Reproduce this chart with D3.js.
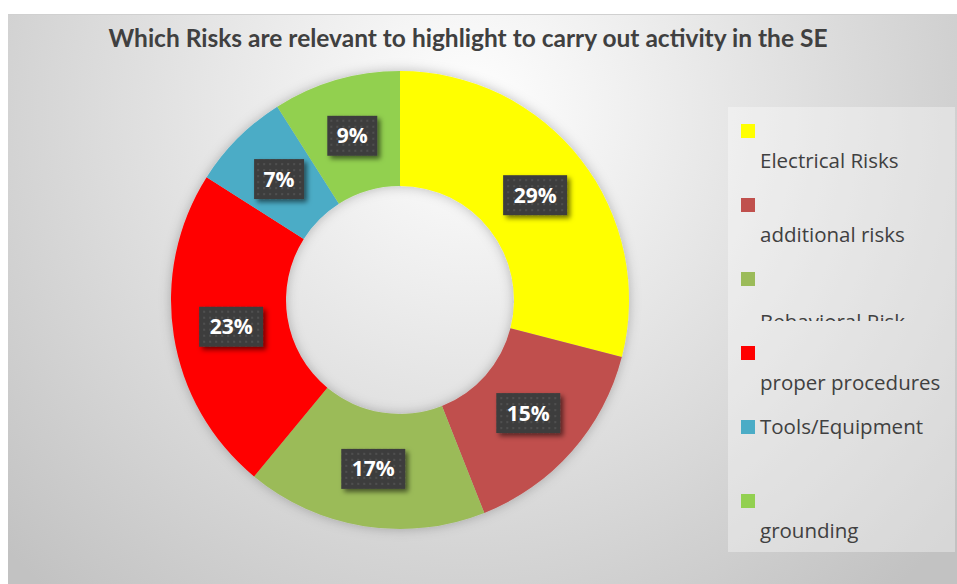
<!DOCTYPE html>
<html>
<head>
<meta charset="utf-8">
<script src="https://cdn.jsdelivr.net/npm/d3@7"></script>
<style>
  body { margin: 0; background: #fff; }
  svg { display: block; }
</style>
</head>
<body>
<div id="chart"></div>
<script>
const categories = ["Electrical Risks", "additional risks", "Behavioral Risk", "proper procedures", "Tools/Equipment", "grounding"];
const values = [29, 15, 17, 23, 7, 9];
const colors = ["#ffff00", "#c0504d", "#9bbb59", "#ff0000", "#4bacc6", "#92d050"];
const title = "Which Risks are relevant to highlight to carry out activity in the SE";

const W = 957, H = 584;
const svg = d3.select("#chart").append("svg")
    .attr("width", W)
    .attr("height", H);

const defs = svg.append("defs");

// chart area background
const bg = defs.append("radialGradient")
    .attr("id", "bg")
    .attr("gradientUnits", "userSpaceOnUse")
    .attr("cx", 470).attr("cy", 110).attr("r", 640);
bg.append("stop").attr("offset", "0%").attr("stop-color", "#ffffff");
bg.append("stop").attr("offset", "100%").attr("stop-color", "#c2c2c2");

const shadow = defs.append("filter").attr("id", "shadow")
    .attr("x", "-30%").attr("y", "-30%").attr("width", "160%").attr("height", "160%");
shadow.append("feDropShadow")
    .attr("dx", 3).attr("dy", 3).attr("stdDeviation", 2.5)
    .attr("flood-color", "#000").attr("flood-opacity", 0.55);

const halo = defs.append("filter").attr("id", "halo")
    .attr("x", "-20%").attr("y", "-20%").attr("width", "140%").attr("height", "140%");
halo.append("feDropShadow")
    .attr("dx", 0).attr("dy", 0).attr("stdDeviation", 6)
    .attr("flood-color", "#000").attr("flood-opacity", 0.25);

const dots = defs.append("pattern").attr("id", "dots")
    .attr("patternUnits", "userSpaceOnUse")
    .attr("width", 6).attr("height", 6);
dots.append("rect").attr("width", 6).attr("height", 6).attr("fill", "#3e3e3e");
dots.append("circle").attr("cx", 3).attr("cy", 3).attr("r", 1).attr("fill", "#555");

svg.append("rect")
    .attr("x", 8).attr("y", 14)
    .attr("width", W - 8).attr("height", H - 14)
    .attr("fill", "url(#bg)");
svg.append("line")
    .attr("x1", 8).attr("x2", W).attr("y1", 14.5).attr("y2", 14.5)
    .attr("stroke", "#d0d0d0");

svg.append("text")
    .attr("x", 468).attr("y", 47)
    .attr("text-anchor", "middle")
    .attr("font-family", "Lato, 'Open Sans', sans-serif")
    .attr("font-weight", "bold")
    .attr("font-size", 24.5)
    .attr("fill", "#404040")
    .text(title);

// donut
const cx = 400, cy = 300, rOuter = 229, rInner = 114;
const data = categories.map((c, i) => ({ name: c, value: values[i], color: colors[i] }));
const pie = d3.pie().value(d => d.value).sort(null);
const arc = d3.arc().innerRadius(rInner).outerRadius(rOuter);
const labelArc = d3.arc().innerRadius(171).outerRadius(171);
const arcs = pie(data);

const g = svg.append("g").attr("transform", `translate(${cx},${cy})`);
g.append("g").attr("filter", "url(#halo)")
    .selectAll("path")
    .data(arcs)
    .join("path")
    .attr("d", arc)
    .attr("fill", d => d.data.color);

const total = d3.sum(values);
const labels = g.selectAll(".lbl")
    .data(arcs)
    .join("g")
    .attr("class", "lbl")
    .attr("transform", d => `translate(${labelArc.centroid(d)})`);

labels.append("rect")
    .attr("x", d => d.data.value >= 10 ? -32 : -25)
    .attr("y", -20)
    .attr("width", d => d.data.value >= 10 ? 64 : 50)
    .attr("height", 40)
    .attr("fill", "url(#dots)")
    .attr("filter", "url(#shadow)");

labels.append("text")
    .attr("text-anchor", "middle")
    .attr("dy", "0.36em")
    .attr("font-family", "'Open Sans', sans-serif")
    .attr("font-weight", "bold")
    .attr("font-size", 21)
    .attr("fill", "#ffffff")
    .text(d => Math.round(d.data.value / total * 100) + "%");

// legend
const legend = svg.append("g");
legend.append("rect")
    .attr("x", 728).attr("y", 107)
    .attr("width", 227).attr("height", 445)
    .attr("fill", "#ffffff").attr("fill-opacity", 0.35);

const legY = d3.scaleBand().domain(categories).range([117, 561]);
// text offset under the marker; Tools/Equipment sits on the marker line,
// Behavioral Risk is pushed down and cut off by its row
const textDy = [44, 44, 57, 44, 14, 44];
const clipBottom = [null, null, 321, null, null, null];

categories.forEach((c, i) => {
    if (clipBottom[i]) {
        defs.append("clipPath").attr("id", "clip" + i)
            .attr("clipPathUnits", "userSpaceOnUse")
            .append("rect").attr("x", 700).attr("y", 0).attr("width", 257).attr("height", clipBottom[i]);
    }
});

const items = legend.selectAll(".item")
    .data(data)
    .join("g")
    .attr("class", "item");

items.append("rect")
    .attr("x", 741)
    .attr("y", d => legY(d.name) + 7)
    .attr("width", 14).attr("height", 14)
    .attr("fill", d => d.color);

items.append("text")
    .attr("x", 760)
    .attr("y", (d, i) => legY(d.name) + 7 + textDy[i])
    .attr("clip-path", (d, i) => clipBottom[i] ? `url(#clip${i})` : null)
    .attr("font-family", "'Open Sans', sans-serif")
    .attr("font-size", 20.5)
    .attr("fill", "#404040")
    .text(d => d.name);
</script>
</body>
</html>
